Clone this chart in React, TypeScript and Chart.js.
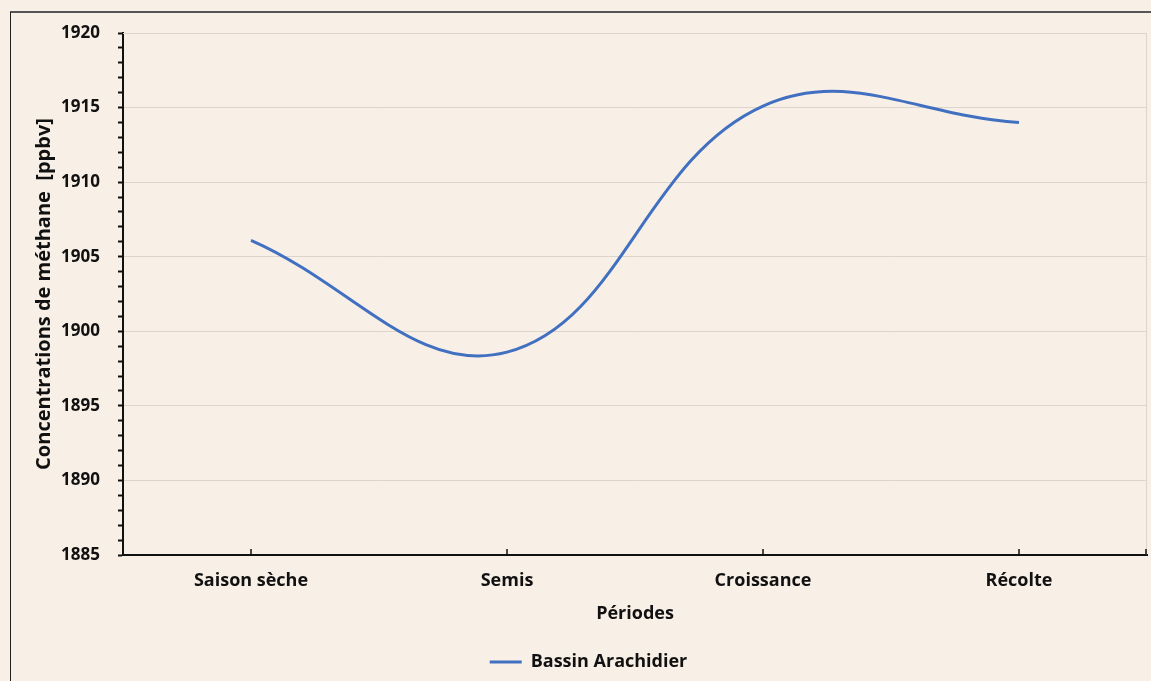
import React, { useEffect, useRef } from "react";
import { Chart, registerables } from "chart.js";

Chart.register(...registerables);

// Periods along the x axis and the methane series (ppbv)
const periods = ["Saison sèche", "Semis", "Croissance", "Récolte"];
const methaneBassinArachidier = [1906.1, 1898.6, 1915.1, 1914.0];
const seriesLabel = "Bassin Arachidier";

const yMin = 1885;
const yMax = 1920;
const yMajorStep = 5;

const BG = "#f8f0e7";
const LINE = "#4270c0";
const GRID = "#ddd5cc";
const FONT = "'Open Sans', 'DejaVu Sans', sans-serif";

// Draws the light plot-area border and the inward x-axis tick marks
const plotDecor = {
  id: "plotDecor",
  beforeDatasetsDraw(chart: any) {
    const { ctx, chartArea } = chart;
    ctx.save();
    ctx.strokeStyle = GRID;
    ctx.lineWidth = 1;
    ctx.beginPath();
    ctx.moveTo(chartArea.left, chartArea.top + 0.5);
    ctx.lineTo(chartArea.right - 0.5, chartArea.top + 0.5);
    ctx.lineTo(chartArea.right - 0.5, chartArea.bottom);
    ctx.stroke();
    ctx.restore();
  },
  afterDraw(chart: any) {
    const { ctx, chartArea, scales } = chart;
    const x = scales.x;
    ctx.save();
    ctx.strokeStyle = "#111";
    ctx.lineWidth = 1.5;
    ctx.beginPath();
    const positions: number[] = [];
    for (let i = 0; i < x.ticks.length; i++) positions.push(x.getPixelForTick(i));
    positions.push(chartArea.right - 1);
    for (const px of positions) {
      ctx.moveTo(px, chartArea.bottom);
      ctx.lineTo(px, chartArea.bottom - 6);
    }
    ctx.stroke();
    ctx.restore();
  },
};

export default function App() {
  const canvasRef = useRef<HTMLCanvasElement | null>(null);

  useEffect(() => {
    if (!canvasRef.current) return;
    const chart = new Chart(canvasRef.current, {
      type: "line",
      data: {
        labels: periods,
        datasets: [
          {
            label: seriesLabel,
            data: methaneBassinArachidier,
            borderColor: LINE,
            backgroundColor: LINE,
            borderWidth: 3,
            pointRadius: 0,
            tension: 0.4,
            fill: false,
          },
        ],
      },
      options: {
        animation: false,
        responsive: false,
        maintainAspectRatio: false,
        layout: { padding: { top: 33, right: 4, left: 30, bottom: 0 } },
        plugins: {
          tooltip: { enabled: false },
          legend: {
            position: "bottom",
            labels: {
              usePointStyle: true,
              pointStyle: "line",
              pointStyleWidth: 32,
              color: "#111",
              font: { family: FONT, size: 18, weight: "bold" },
              padding: 8,
            },
          },
        },
        scales: {
          x: {
            offset: true,
            grid: { display: false, drawTicks: false },
            border: { color: "#111", width: 2 },
            ticks: {
              color: "#111",
              padding: 15,
              font: { family: FONT, size: 18, weight: "bold" },
            },
            title: {
              display: true,
              text: "Périodes",
              color: "#111",
              font: { family: FONT, size: 18, weight: "bold" },
              padding: { top: 4, bottom: 20 },
            },
            afterFit(scale: any) {
              scale.height = 90;
            },
          },
          y: {
            min: yMin,
            max: yMax,
            grid: {
              color: (c: any) => (c.tick && c.tick.value % yMajorStep === 0 ? GRID : "rgba(0,0,0,0)"),
              tickColor: "#111",
              tickLength: 5,
              lineWidth: 1,
              tickWidth: 2,
            },
            border: { color: "#111", width: 2 },
            ticks: {
              stepSize: 1,
              autoSkip: false,
              color: "#111",
              padding: 18,
              font: { family: FONT, size: 17, weight: "bold" },
              callback: (v: any) => (Number(v) % yMajorStep === 0 ? String(v) : ""),
            },
            title: {
              display: true,
              text: "Concentrations de méthane  [ppbv]",
              color: "#111",
              font: { family: FONT, size: 20, weight: "bold" },
              padding: { top: 2, bottom: 0 },
            },
            afterFit(scale: any) {
              scale.width = 93;
            },
          },
        },
      },
      plugins: [plotDecor],
    });
    return () => chart.destroy();
  }, []);

  return (
    <div
      style={{
        position: "fixed",
        left: 0,
        top: 0,
        width: 1151,
        height: 681,
        background: BG,
        overflow: "hidden",
      }}
    >
      <div
        style={{
          position: "absolute",
          left: 10,
          top: 11,
          width: 1151,
          height: 681,
          borderTop: "2px solid #555",
          borderLeft: "1.5px solid #222",
        }}
      />
      <canvas
        ref={canvasRef}
        width={1151}
        height={681}
        style={{ position: "absolute", left: 0, top: 0, width: 1151, height: 681 }}
      />
    </div>
  );
}
